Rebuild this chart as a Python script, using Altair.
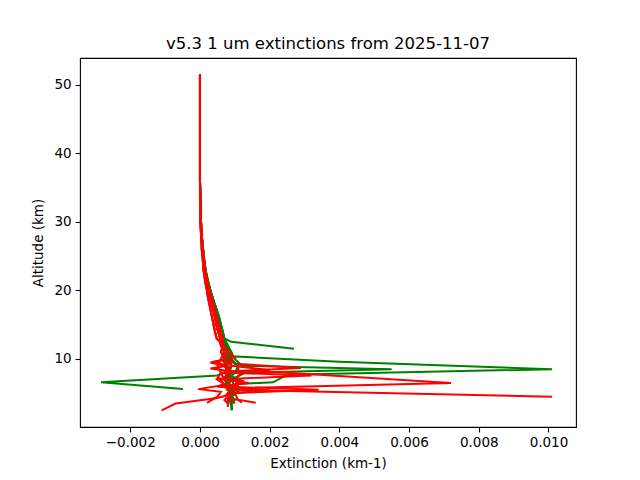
import altair as alt
import pandas as pd

TITLE = "v5.3 1 um extinctions from 2025-11-07"
X_TICKS = [-0.002, 0.0, 0.002, 0.004, 0.006, 0.008, 0.010]
Y_TICKS = [10, 20, 30, 40, 50]

# Upper-atmosphere part (shared altitude grid, km)
UPPER_ALT = [51.5, 45.0, 40.0, 36.0, 33.0, 31.0, 29.0, 27.5, 26.0, 24.5, 23.0,
             22.0, 21.0, 20.0, 19.0, 18.0, 17.0, 16.0, 15.0, 14.0, 13.0]
RED_UP_LO = [0, 0, 0, 0, 0.0, 0.00001, 0.00002, 0.00004, 0.00005, 0.00008, 0.0001,
             0.00013, 0.00016, 0.0002, 0.00023, 0.00027, 0.00031, 0.00035, 0.00039, 0.00043, 0.00048]
RED_UP_MID = [0, 0, 0, 0, 0.00001, 0.00002, 0.00003, 0.00005, 0.00007, 0.0001, 0.00013,
              0.00016, 0.0002, 0.00024, 0.00029, 0.00034, 0.00039, 0.00043, 0.00047, 0.00052, 0.00058]
RED_UP_HI = [0, 0, 0, 0, 0.00001, 0.00002, 0.00004, 0.00006, 0.00008, 0.00012, 0.00015,
             0.00019, 0.00023, 0.00028, 0.00033, 0.00039, 0.00044, 0.00049, 0.00054, 0.00059, 0.00065]
GREEN_UP_A = [0, 0, 0, 0, 0.00001, 0.00002, 0.00004, 0.00006, 0.00009, 0.00012, 0.00016,
              0.0002, 0.00025, 0.0003, 0.00036, 0.00042, 0.00049, 0.00055, 0.0006, 0.00065, 0.0007]
GREEN_UP_B = [0, 0, 0, 0, 0.00001, 0.00002, 0.00003, 0.00005, 0.00008, 0.00011, 0.00014,
              0.00018, 0.00022, 0.00027, 0.00033, 0.00039, 0.00046, 0.00052, 0.00058, 0.00063, 0.00068]

# Lower part of each profile: (altitudes, extinctions)
G1_ALT = [12.5, 11.5]
G1_VAL = [0.0009, 0.0027]
G2_ALT = [12, 11, 10.4, 9.6, 8.5, 7.7, 6.6, 6.35, 6.0, 5.0, 4.0, 3.0, 2.5]
G2_VAL = [0.00075, 0.0008, 0.0009, 0.0040, 0.0101, 0.0025, 0.0021, 0.0011, 0.0009, 0.0009, 0.00085, 0.0009, 0.0009]
G3_ALT = [12, 11, 10, 9.0, 8.5, 8.0, 7.0, 6.0, 5.0, 4.2, 3.6]
G3_VAL = [0.00078, 0.0009, 0.001, 0.0012, 0.0055, 0.0013, 0.0009, 0.0008, 0.00095, 0.0008, 0.0008]
G4_ALT = [12, 11, 10, 9, 8.2, 7.6, 6.6, 5.6]
G4_VAL = [0.0007, 0.0008, 0.00085, 0.0007, 0.0008, 0.0005, -0.00284, -0.00049]
G5_ALT = [12, 11, 10, 9, 8, 7, 6, 5, 4, 3, 2.5]
G5_VAL = [0.0008, 0.0009, 0.0008, 0.0009, 0.00085, 0.0009, 0.001, 0.0009, 0.0009, 0.00092, 0.00092]
G6_ALT = [12, 11, 10, 9, 8, 7, 6, 5.2, 4.5]
G6_VAL = [0.00075, 0.0008, 0.0007, 0.0008, 0.0009, 0.0007, 0.0008, 0.0011, 0.0009]
G7_ALT = [12, 11, 10, 9, 8, 7.5, 6.8, 6, 5, 4, 3.5]
G7_VAL = [0.0007, 0.0007, 0.0009, 0.0011, 0.001, 0.0009, 0.0012, 0.0009, 0.0008, 0.001, 0.0009]

R1_ALT = [12, 11, 10, 9, 8, 7, 6, 5, 4.3, 3.5, 2.5]
R1_VAL = [0.0006, 0.0007, 0.0006, 0.0008, 0.0007, 0.0009, 0.0008, 0.001, 0.0005, -0.0007, -0.0011]
R2_ALT = [12, 11, 10, 9, 8, 7, 6, 5.5, 4.5]
R2_VAL = [0.00065, 0.0008, 0.0007, 0.0009, 0.0008, 0.0007, 0.0009, 0.0008, 0.0101]
R3_ALT = [12, 11, 10, 9, 8.3, 8.0, 6.5, 5.7, 5.0, 4.0, 3.5]
R3_VAL = [0.0007, 0.0009, 0.0008, 0.0011, 0.0011, 0.0025, 0.0072, 0.0008, 0.0009, 0.0007, 0.0008]
R4_ALT = [12, 11, 10, 9.3, 8.7, 8.2, 7, 6, 5, 4, 3]
R4_VAL = [0.0006, 0.0008, 0.0009, 0.001, 0.0029, 0.0009, 0.0008, 0.0007, 0.0009, 0.0008, 0.0008]
R5_ALT = [12, 11, 10, 9, 8, 7, 6.5, 6.0, 5.5, 5.0, 4.3, 3.6]
R5_VAL = [0.0007, 0.0006, 0.0008, 0.0007, 0.0009, 0.0008, 0.0008, 0.0005, 0.0034, 0.0008, 0.0008, 0.0016]
R6_ALT = [12, 11, 10, 9, 8, 7.6, 7.0, 6, 5.2, 4.5, 4.0]
R6_VAL = [0.00065, 0.0007, 0.0009, 0.0009, 0.0007, 0.0032, 0.0005, 0.0008, 0.0009, 0.0009, 0.001]
R7_ALT = [12, 11, 10, 9.5, 9, 8, 7, 6.2, 5.6, 5.2, 4.5, 3.6]
R7_VAL = [0.0006, 0.0007, 0.0008, 0.0003, 0.0007, 0.0009, 0.0006, 0.0007, -0.00005, 0.0006, 0.0005, 0.0002]
R8_ALT = [12, 11, 10.2, 9.6, 9.0, 8.6, 8.0, 7.0, 6.0, 5.0, 4.0, 3.5]
R8_VAL = [0.0007, 0.0008, 0.001, 0.0004, 0.0008, 0.0003, 0.0012, 0.001, 0.0011, 0.0008, 0.0009, 0.001]
R9_ALT = [12, 11, 10, 9, 8.4, 8.0, 7, 6.5, 6.0, 5.4, 5.0, 4.5]
R9_VAL = [0.00065, 0.0006, 0.0007, 0.0009, 0.002, 0.0006, 0.0007, 0.0014, 0.0005, 0.002, 0.0008, 0.0007]
R10_ALT = [12, 11, 10, 9, 8, 7.2, 6.8, 6.0, 5.0, 4.0, 3.6]
R10_VAL = [0.0006, 0.0007, 0.0006, 0.0005, 0.0006, 0.0005, 0.0012, 0.0009, 0.001, 0.0011, 0.0012]

PROFILES = [
    ("G1", "green", GREEN_UP_A, G1_ALT, G1_VAL),
    ("R1", "red", RED_UP_MID, R1_ALT, R1_VAL),
    ("G2", "green", GREEN_UP_B, G2_ALT, G2_VAL),
    ("R2", "red", RED_UP_LO, R2_ALT, R2_VAL),
    ("G3", "green", GREEN_UP_A, G3_ALT, G3_VAL),
    ("R3", "red", RED_UP_HI, R3_ALT, R3_VAL),
    ("G4", "green", GREEN_UP_B, G4_ALT, G4_VAL),
    ("R4", "red", RED_UP_MID, R4_ALT, R4_VAL),
    ("G5", "green", GREEN_UP_A, G5_ALT, G5_VAL),
    ("R5", "red", RED_UP_LO, R5_ALT, R5_VAL),
    ("G6", "green", GREEN_UP_B, G6_ALT, G6_VAL),
    ("R6", "red", RED_UP_HI, R6_ALT, R6_VAL),
    ("G7", "green", GREEN_UP_A, G7_ALT, G7_VAL),
    ("R7", "red", RED_UP_MID, R7_ALT, R7_VAL),
    ("R8", "red", RED_UP_LO, R8_ALT, R8_VAL),
    ("R9", "red", RED_UP_HI, R9_ALT, R9_VAL),
    ("R10", "red", RED_UP_MID, R10_ALT, R10_VAL),
]

rows = []
for name, col, up, lalt, lval in PROFILES:
    alts = UPPER_ALT + lalt
    vals = up + lval
    for i, (a, v) in enumerate(zip(alts, vals)):
        rows.append({"profile": name, "kind": col, "seq": i, "alt": a, "ext": v})
df = pd.DataFrame(rows)

FONT = "DejaVu Sans"

chart = alt.Chart(df).mark_line(strokeWidth=2, clip=True).encode(
    x=alt.X("ext:Q",
            scale=alt.Scale(domain=[-0.003443, 0.01079], nice=False, zero=False),
            axis=alt.Axis(title="Extinction (km-1)", values=X_TICKS, format=".3f")),
    y=alt.Y("alt:Q",
            scale=alt.Scale(domain=[0.07, 53.94], nice=False, zero=False),
            axis=alt.Axis(title="Altitude (km)", values=Y_TICKS)),
    color=alt.Color("kind:N",
                    scale=alt.Scale(domain=["green", "red"], range=["#008000", "#ff0000"]),
                    legend=None),
    detail="profile:N",
    order="seq:Q",
).properties(
    width=496,
    height=369,
    title=alt.TitleParams(TITLE, font=FONT, fontSize=16.5, fontWeight="normal",
                          anchor="middle", color="black", offset=8, dy=15,
                          baseline="alphabetic"),
    autosize=alt.AutoSizeParams(type="none"),
    padding={"left": 72, "top": 50, "right": 50, "bottom": 52},
).configure_view(
    stroke="black", strokeWidth=1.1
).configure_axis(
    grid=False, domain=False,
    tickColor="black", tickSize=4.9, tickWidth=1.1,
    labelFont=FONT, labelFontSize=13.5, labelColor="black", labelPadding=4,
    titleFont=FONT, titleFontSize=13.5, titleFontWeight="normal", titleColor="black",
).configure_axisX(titlePadding=7).configure_axisY(titlePadding=8)

chart.save("out.html", embed_options={"renderer": "svg", "actions": False})
